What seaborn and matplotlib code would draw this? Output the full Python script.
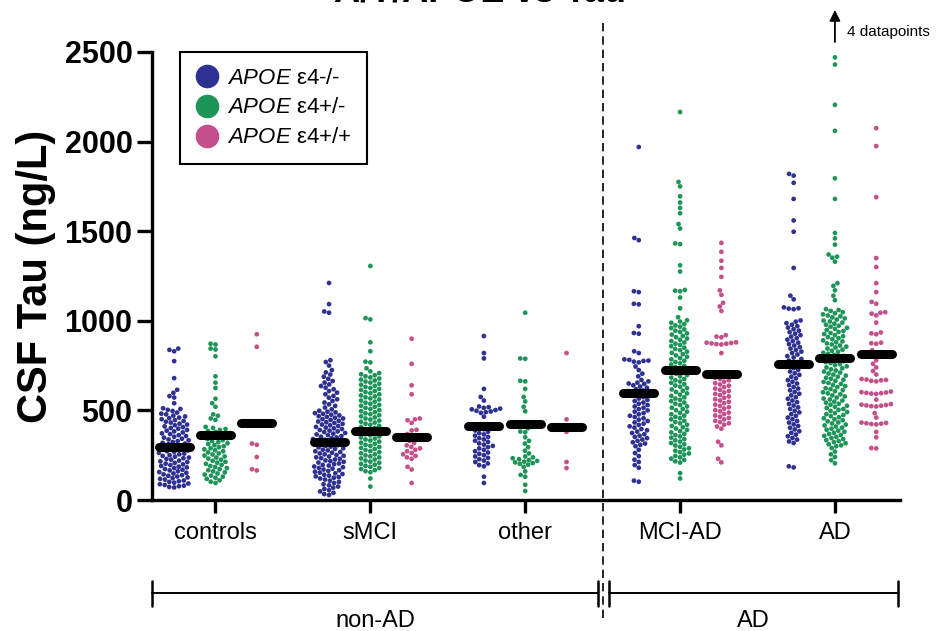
import pandas as pd
import matplotlib.pyplot as plt
import matplotlib.transforms as mtransforms
from matplotlib.lines import Line2D
import seaborn as sns

diagnoses = ["controls", "sMCI", "other", "MCI-AD", "AD"]
genotypes = ["ε4-/-", "ε4+/-", "ε4+/+"]
colors = ["#2E3192", "#1E9558", "#C4508B"]

# CSF tau (ng/L)
controls_neg = [845, 838, 830, 775, 680, 615, 598, 580, 572, 540, 512, 508, 503, 497,
                488, 482, 478, 471, 466, 460, 457, 451, 446, 441, 437, 432, 426, 421, 417, 411,
                407, 402, 398, 391, 387, 383, 377, 372, 368, 362, 357, 353, 348, 342, 338, 333,
                329, 324, 319, 315, 311, 306, 302, 298, 294, 289, 285, 281, 276, 272, 268, 263,
                259, 255, 250, 246, 242, 237, 233, 229, 225, 220, 216, 212, 207, 203, 199, 195,
                190, 186, 182, 178, 173, 169, 165, 160, 156, 152, 148, 143, 139, 135, 131, 126,
                122, 118, 114, 109, 105, 101, 97, 92, 88, 84, 80, 77, 73, 70]
controls_het = [872, 868, 845, 840, 802, 690, 655, 625, 565, 540, 520, 478, 470, 455, 447,
                408, 402, 396, 391, 385, 379, 374, 370, 365, 360, 356, 351, 345, 340, 334, 329,
                323, 317, 312, 306, 300, 295, 289, 283, 278, 272, 266, 260, 254, 248, 243, 237,
                231, 225, 219, 213, 208, 202, 196, 190, 184, 178, 172, 166, 160, 154, 148, 142,
                136, 130, 124, 118, 110, 102, 95]
controls_hom = [925, 855, 315, 308, 240, 172, 165]

smci_neg = [1211, 1093, 1052, 1045, 780, 770, 750, 725, 712, 700, 688, 676,
            664, 655, 645, 636, 627, 618, 608, 599, 590, 581, 571, 562, 553, 544, 534, 525,
            516, 506,
            498, 493, 489, 485, 481, 476, 472, 468, 464, 459, 455, 451, 447, 442, 438, 434,
            430, 425, 421, 417, 413, 408, 404, 400, 396, 391, 387, 383, 379, 374, 370, 366,
            362, 357, 353, 349, 345, 340, 336, 332, 328, 323, 319, 315, 311, 306, 302, 298,
            294, 289, 285, 281, 277, 272, 268, 264, 260, 255, 251, 247, 243, 238, 234, 230,
            226, 221, 217, 213, 209, 204, 200, 196, 192, 187, 183, 179, 175, 170, 166, 162,
            158, 153, 149, 145, 141, 136, 132, 128, 124, 120,
            114, 108, 101, 95, 88, 82, 75, 69, 62, 55, 48, 40, 33, 28]
smci_het = [1306, 1015, 1008, 880, 830, 772, 768, 735, 718,
            708, 702, 696, 690, 684, 678, 672, 667, 661, 655, 649, 643, 637, 631, 625, 620,
            614, 608, 602, 596, 590, 584, 578, 573, 567, 561, 555, 549, 543, 537, 531, 526,
            520, 514, 508, 502, 496, 490, 484, 479, 473, 467, 461, 455, 449, 443, 437, 432,
            426, 420, 414, 408, 402, 396, 390, 385, 379, 373, 367, 361, 355, 349, 343, 338,
            332, 326, 320, 314, 308, 302, 296, 291, 285, 279, 273, 267, 261, 255, 249, 244,
            238, 232, 226, 220, 214, 208, 202, 197, 191, 185, 179, 173, 167, 161, 155,
            120, 75]
smci_hom = [900, 760, 640, 590, 455, 450, 445, 430, 392, 388, 368, 355, 340, 330, 318, 305,
            296, 288, 280, 272, 262, 255, 246, 238, 230, 185, 170, 95]

other_neg = [915, 820, 790, 620, 575, 555, 522, 518, 514, 510, 506, 502, 498, 494, 490, 486,
             465, 410, 402, 395, 388, 381, 373, 366, 359, 352, 345, 338, 331, 324, 316, 309,
             302, 295, 288, 280, 272, 265, 258, 250, 243, 235, 228, 220, 212, 204, 195, 188,
             130, 95]
other_het = [1045, 790, 788, 665, 662, 620, 575, 550, 520, 495, 430, 410, 400, 382, 378, 350,
             330, 315, 295, 275, 260, 243, 238, 233, 228, 223, 218, 214, 210, 206, 202, 197,
             185, 160, 140, 130, 85, 50]
other_hom = [820, 450, 380, 212, 178]

mciad_neg = [1970, 1462, 1450, 1165, 1160, 1095, 1092, 970, 932, 928, 830, 820, 785, 782,
             778, 776, 772, 768, 745, 725, 705, 690, 670, 650,
             662, 655, 648, 640, 633, 626, 618, 611, 603, 596, 589, 581, 574, 566, 559, 552,
             544, 537, 530, 522, 515, 507, 500, 493, 485, 478, 470, 463, 456, 448, 441, 433,
             426, 419, 411, 404, 396, 389, 382, 374, 367, 359, 352, 345, 337, 330, 322, 315,
             308, 300, 280, 262, 245, 225, 212, 195, 180, 108, 102]
mciad_het = [2165, 1775, 1750, 1695, 1660, 1630, 1600, 1540, 1515, 1432, 1428, 1310, 1275,
             1172, 1168, 1165, 1130, 1070, 1020,
             1003, 996, 989, 981, 974, 967, 960, 952, 945, 938, 930, 923, 916, 909, 901, 894,
             887, 879, 872, 865, 858, 850, 843, 836, 828, 821, 814, 807, 799, 792, 785, 777,
             770, 763, 756, 748, 741, 734, 726, 719, 712, 705, 697, 690, 683, 675, 668, 661,
             654, 646, 639, 632, 624, 617, 610, 603, 595, 588, 581, 573, 566, 559, 552, 544,
             537, 530, 522, 515, 508, 501, 493, 486, 479, 471, 464, 457, 450, 442, 435, 428,
             420, 413, 406, 399, 391, 384, 377, 369, 362, 355, 348, 340, 333, 326, 318, 311,
             304, 297, 289, 282, 275, 267, 260, 253, 246, 238, 231, 224, 216, 209, 150, 120]
mciad_hom = [1435, 1385, 1335, 1295, 1245, 1170, 1145, 1100, 1080, 1055, 920, 912, 908, 880,
             878, 876, 874, 872, 870, 868, 820,
             712, 704, 697, 690, 682, 675, 668, 660, 652, 645, 638, 630, 622, 615, 608, 600,
             592, 585, 578, 570, 562, 555, 548, 540, 532, 525, 518, 510, 502, 495, 488, 480,
             472, 465, 458, 450, 442, 435, 428, 420, 410, 398, 325, 305, 230, 210]

ad_neg = [1820, 1810, 1770, 1680, 1560, 1497, 1295, 1140, 1120, 1075, 1070, 1068, 1065,
          1002, 995, 987, 978, 970, 962, 953, 945, 937, 928, 920, 912, 903, 895, 887, 878,
          870, 862, 853, 845, 837, 828, 820, 812, 803, 795, 787, 778, 770, 762,
          745, 736, 726, 717, 707, 698, 688, 679, 669, 660, 650, 641, 631, 622, 612, 603,
          593, 584, 574, 565, 555, 546, 536, 527, 517, 508, 498, 489, 479, 470, 460, 451,
          441, 432, 422, 413, 403, 394, 384, 375, 365, 356, 346, 337, 327, 318, 188, 182]
ad_het = [2470, 2430, 2205, 2060, 1795, 1680, 1490, 1460, 1425, 1370, 1358, 1352, 1330, 1210,
          1195, 1170, 1140, 1115, 1065, 1060, 1055,
          1048, 1042, 1036, 1030, 1025, 1019, 1013, 1007, 1001, 996, 990, 984, 978, 972, 967,
          961, 955, 949, 943, 938, 932, 926, 920, 914, 909, 903, 897, 891, 885, 880, 874, 868,
          862, 856, 851, 845, 839, 833, 827, 822, 816, 810, 804, 798, 793, 787, 781, 775, 769,
          764, 758, 752, 746, 740, 735, 729, 723, 717, 711, 706, 700, 694, 688, 682, 677, 671,
          665, 659, 653, 648, 642, 636, 630, 624, 619, 613, 607, 601, 595, 590, 584, 578, 572,
          566, 561, 555, 549, 543, 537, 532, 526, 520, 514, 508, 503, 497, 491, 485, 479, 474,
          468, 462, 456, 450, 445, 439, 433, 427, 421, 416, 410, 404, 398, 392, 387, 381, 375,
          369, 363, 358, 352, 346, 340, 334, 329, 323, 317, 311, 305, 300,
          290, 270, 255, 240, 222, 205]
ad_hom = [2075, 1975, 1690, 1350, 1300, 1210, 1160, 1105, 1095, 1048, 1045, 1040, 1030, 990,
          935, 930, 925, 878, 875, 872, 835, 820, 780, 760, 740, 720, 700, 675, 672, 670, 668,
          665, 662, 605, 602, 600, 598, 596, 594, 592, 560, 535, 532, 530, 528, 526, 524, 522,
          485, 460, 432, 430, 428, 426, 424, 422, 380, 350, 290, 288]

# medians (black bars), per diagnosis
median_neg = [298, 325, 415, 595, 760]
median_het = [360, 385, 425, 725, 795]
median_hom = [430, 350, 410, 705, 815]

groups = {
    ("controls", genotypes[0]): controls_neg, ("controls", genotypes[1]): controls_het,
    ("controls", genotypes[2]): controls_hom,
    ("sMCI", genotypes[0]): smci_neg, ("sMCI", genotypes[1]): smci_het, ("sMCI", genotypes[2]): smci_hom,
    ("other", genotypes[0]): other_neg, ("other", genotypes[1]): other_het, ("other", genotypes[2]): other_hom,
    ("MCI-AD", genotypes[0]): mciad_neg, ("MCI-AD", genotypes[1]): mciad_het,
    ("MCI-AD", genotypes[2]): mciad_hom,
    ("AD", genotypes[0]): ad_neg, ("AD", genotypes[1]): ad_het, ("AD", genotypes[2]): ad_hom,
}
df = pd.DataFrame([(d, g, v) for (d, g), vals in groups.items() for v in vals],
                  columns=["diagnosis", "genotype", "tau"])

sns.set_style("ticks")
plt.rcParams["font.family"] = ["Liberation Sans", "DejaVu Sans"]
plt.rcParams["mathtext.fontset"] = "custom"
plt.rcParams["mathtext.it"] = "Liberation Sans:italic"
plt.rcParams["mathtext.rm"] = "Liberation Sans"
for k in ["text.color", "axes.labelcolor", "xtick.color", "ytick.color", "axes.edgecolor"]:
    plt.rcParams[k] = "black"

fig = plt.figure(figsize=(9.37, 6.31), dpi=100)
ax = fig.add_axes([0.1622, 0.2076, 0.7983, 0.71])

sns.swarmplot(data=df, x="diagnosis", y="tau", hue="genotype", order=diagnoses,
              hue_order=genotypes, palette=dict(zip(genotypes, colors)), dodge=True,
              size=3.4, linewidth=0, legend=False, warn_thresh=1, ax=ax)

# median bars
offsets = [-0.8 / 3, 0, 0.8 / 3]
for j, meds in enumerate([median_neg, median_het, median_hom]):
    for i, m in enumerate(meds):
        x = i + offsets[j]
        ax.plot([x - 0.1, x + 0.1], [m, m], color="black", lw=6.5,
                solid_capstyle="round", zorder=5)

ax.set_xlim(-0.41, 4.42)
ax.set_ylim(0, 2500)
ax.set_yticks([0, 500, 1000, 1500, 2000, 2500])
sns.despine(ax=ax)
for s in ["left", "bottom"]:
    ax.spines[s].set_linewidth(2.4)
ax.tick_params(axis="y", length=11, width=2.4, labelsize=22, pad=3)
ax.tick_params(axis="x", length=9, width=2.4, labelsize=17, pad=7)
for lab in ax.get_yticklabels():
    lab.set_fontweight("bold")
ax.set_xlabel("")
ax.set_ylabel("CSF Tau (ng/L)", fontsize=30, fontweight="bold", labelpad=6)

# dashed separator between non-AD and AD
ax.axvline(2.5, ymin=-0.263, ymax=1.075, color="black", lw=1.2,
           linestyle=(0, (5, 3)), clip_on=False)

# group brackets below the axis
trans = mtransforms.blended_transform_factory(ax.transData, ax.transAxes)
br_y = -0.208
for label, x0, x1 in [("non-AD", -0.41, 2.47), ("AD", 2.54, 4.41)]:
    ax.plot([x0, x1], [br_y, br_y], color="black", lw=1.4, transform=trans, clip_on=False)
    for xe in (x0, x1):
        ax.plot([xe, xe], [br_y - 0.028, br_y + 0.028], color="black", lw=1.8,
                transform=trans, clip_on=False)
    ax.text((x0 + x1) / 2, -0.27, label, transform=trans, ha="center", va="center",
            fontsize=17)

# off-scale points
ax.annotate("", xy=(4, 1.1), xytext=(4, 1.016), xycoords=trans, textcoords=trans,
            arrowprops=dict(arrowstyle="-|>", color="black", lw=1.3, mutation_scale=16),
            annotation_clip=False)
ax.text(4.08, 1.045, "4 datapoints", transform=trans, fontsize=11, va="center")

# legend
handles = [Line2D([], [], marker="o", linestyle="", markersize=16, markerfacecolor=c,
                  markeredgecolor=c) for c in colors]
labels = [r"$\mathit{APOE}$ " + g for g in genotypes]
leg = ax.legend(handles, labels, loc="upper left", bbox_to_anchor=(0.037, 1.0),
                borderaxespad=0, frameon=True, fancybox=False, edgecolor="black",
                framealpha=1, fontsize=16, handletextpad=0.35, borderpad=0.7,
                labelspacing=0.4, handlelength=1.1)
leg.get_frame().set_linewidth(1.5)

fig.text(0.512, 0.997, "A/T/APOE vs Tau", ha="center", va="baseline", fontsize=26,
         fontweight="bold")

fig.savefig("out.png", dpi=100)
